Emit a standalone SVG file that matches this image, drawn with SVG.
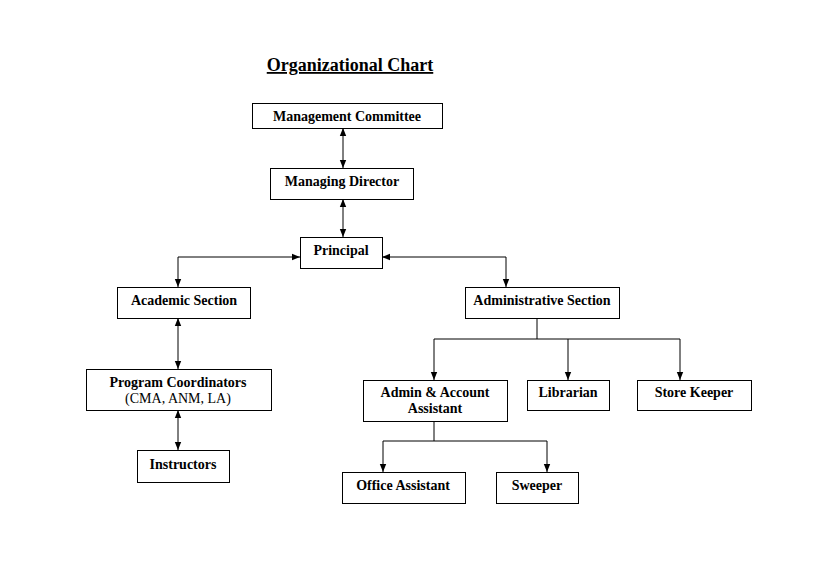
<svg xmlns="http://www.w3.org/2000/svg" width="822" height="565" viewBox="0 0 822 565">
<style>
.box{fill:#fff;stroke:#000;stroke-width:1}
.t{font-family:"Liberation Serif","Times New Roman",serif;font-size:14px;font-weight:bold;text-anchor:middle;fill:#000}
.n{font-weight:normal}
.c{fill:none;stroke:#000;stroke-width:1}
</style>
<defs>
<marker id="a" viewBox="0 0 8 8" refX="8" refY="4" markerWidth="8" markerHeight="8" markerUnits="userSpaceOnUse" orient="auto-start-reverse">
<path d="M0,0.8 L8,4 L0,7.2 Z" fill="#000"/>
</marker>
</defs>
<rect width="822" height="565" fill="#fff"/>
<text x="350" y="71" style="font-family:'Liberation Serif','Times New Roman',serif;font-size:18px;font-weight:bold;text-anchor:middle;text-decoration:underline">Organizational Chart</text>
<g id="connectors">
<line class="c" x1="343" y1="128" x2="343" y2="168" marker-start="url(#a)" marker-end="url(#a)"/>
<line class="c" x1="343" y1="199" x2="343" y2="237" marker-start="url(#a)" marker-end="url(#a)"/>
<polyline class="c" points="178,287 178,257 300,257" marker-start="url(#a)" marker-end="url(#a)"/>
<polyline class="c" points="382,257 506,257 506,287" marker-start="url(#a)" marker-end="url(#a)"/>
<line class="c" x1="178" y1="318" x2="178" y2="369" marker-start="url(#a)" marker-end="url(#a)"/>
<line class="c" x1="178" y1="410" x2="178" y2="450" marker-start="url(#a)" marker-end="url(#a)"/>
<polyline class="c" points="537,318 537,339"/>
<polyline class="c" points="434,380 434,339 680,339 680,380" marker-start="url(#a)" marker-end="url(#a)"/>
<line class="c" x1="568" y1="339" x2="568" y2="380" marker-end="url(#a)"/>
<polyline class="c" points="434,421 434,441"/>
<polyline class="c" points="383,472 383,441 547,441 547,472" marker-start="url(#a)" marker-end="url(#a)"/>
</g>
<g id="management-committee"><rect class="box" x="252.5" y="103.5" width="190" height="25"/><text class="t" x="347" y="121">Management Committee</text></g>
<g id="managing-director"><rect class="box" x="270.5" y="168.5" width="143" height="31"/><text class="t" x="342" y="186">Managing Director</text></g>
<g id="principal"><rect class="box" x="300.5" y="237.5" width="82" height="31"/><text class="t" x="341" y="255">Principal</text></g>
<g id="academic-section"><rect class="box" x="117.5" y="287.5" width="133" height="31"/><text class="t" x="184" y="305">Academic Section</text></g>
<g id="administrative-section"><rect class="box" x="465.5" y="287.5" width="154" height="31"/><text class="t" x="542" y="305">Administrative Section</text></g>
<g id="program-coordinators"><rect class="box" x="86.5" y="369.5" width="185" height="41"/><text class="t" x="178" y="387">Program Coordinators</text><text class="t n" x="178" y="403">(CMA, ANM, LA)</text></g>
<g id="instructors"><rect class="box" x="137.5" y="450.5" width="92" height="32"/><text class="t" x="183" y="469">Instructors</text></g>
<g id="admin-account-assistant"><rect class="box" x="363.5" y="380.5" width="144" height="41"/><text class="t" x="435" y="397">Admin &amp; Account</text><text class="t" x="435" y="413">Assistant</text></g>
<g id="librarian"><rect class="box" x="527.5" y="380.5" width="82" height="30"/><text class="t" x="568" y="397">Librarian</text></g>
<g id="store-keeper"><rect class="box" x="637.5" y="380.5" width="114" height="30"/><text class="t" x="694" y="397">Store Keeper</text></g>
<g id="office-assistant"><rect class="box" x="342.5" y="472.5" width="123" height="31"/><text class="t" x="403" y="490">Office Assistant</text></g>
<g id="sweeper"><rect class="box" x="496.5" y="472.5" width="82" height="31"/><text class="t" x="537" y="490">Sweeper</text></g>
</svg>
